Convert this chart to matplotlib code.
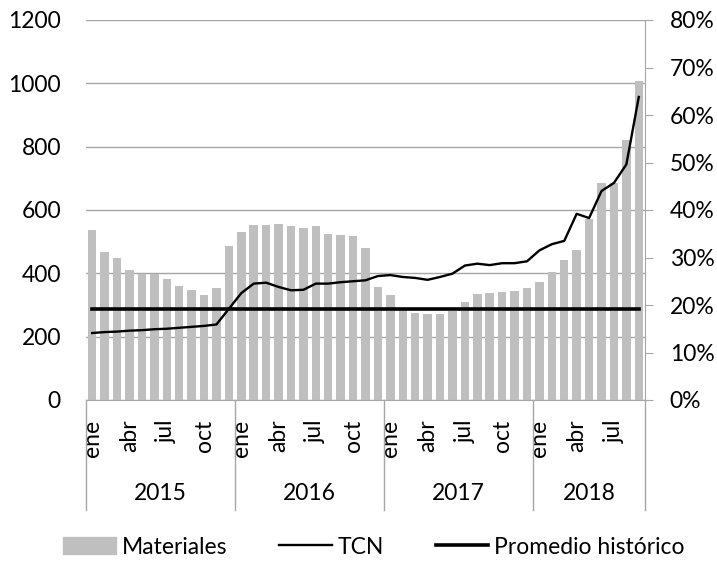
import matplotlib
matplotlib.use("Agg")
import matplotlib.pyplot as plt
from matplotlib.lines import Line2D
from matplotlib.patches import Patch

plt.rcParams['font.family'] = ['Lato', 'DejaVu Sans']

years = ['2015', '2016', '2017', '2018']
months_per_year = [12, 12, 12, 9]
month_labels = ['ene', 'abr', 'jul', 'oct']

materiales = [536, 468, 447, 411, 399, 399, 382, 361, 347, 331, 354, 487,
              532, 554, 554, 557, 551, 543, 551, 524, 520, 517, 480, 358,
              333, 287, 276, 271, 272, 282, 308, 334, 339, 341, 345, 355,
              373, 403, 442, 475, 572, 686, 686, 821, 1008]

tcn = [14.1, 14.3, 14.4, 14.6, 14.7, 14.9, 15.0, 15.2, 15.4, 15.6, 15.9, 19.2,
       22.5, 24.5, 24.7, 23.8, 23.1, 23.2, 24.5, 24.5, 24.8, 25.0, 25.2, 26.1,
       26.3, 25.9, 25.7, 25.3, 25.9, 26.6, 28.3, 28.7, 28.4, 28.8, 28.8, 29.2,
       31.5, 32.8, 33.5, 39.2, 38.3, 44.0, 45.7, 49.6, 63.8]

promedio = 287

n = len(materiales)
x = list(range(n))
grid_col = '#A6A6A6'

fig = plt.figure(figsize=(7.17, 5.63), dpi=100)
ax = fig.add_axes([86/717, 1 - 400/563, (645 - 86)/717, 380/563])
ax2 = ax.twinx()

ax.bar(x, materiales, width=0.68, color='#BFBFBF', zorder=2)
ax.plot([0, n - 1], [promedio, promedio], color='black', lw=2.6, zorder=4)
ax2.plot(x, [v / 100 for v in tcn], color='black', lw=1.7, zorder=5)

ax.set_xlim(-0.5, n - 0.5)
ax.set_ylim(0, 1200)
ax.set_yticks(range(0, 1201, 200))
ax.grid(axis='y', color=grid_col, lw=1, zorder=0)
ax.set_axisbelow(True)
ax2.set_ylim(0, 0.8)
ax2.set_yticks([i / 10 for i in range(9)])
ax2.set_yticklabels([f'{i * 10}%' for i in range(9)])

for s in ['top', 'left']:
    ax.spines[s].set_visible(False)
    ax2.spines[s].set_visible(False)
ax.spines['right'].set_visible(False)
ax.spines['bottom'].set_color(grid_col)
ax2.spines['bottom'].set_visible(False)
ax2.spines['right'].set_color(grid_col)

ax.tick_params(axis='y', length=0, labelsize=16.5, pad=18)
ax2.tick_params(axis='y', length=5.8, color=grid_col, labelsize=16.5, pad=12)

# month ticks
ticks, labels = [], []
start = 0
for cnt in months_per_year:
    for k, lab in enumerate(month_labels):
        if k * 3 < cnt:
            ticks.append(start + k * 3)
            labels.append(lab)
    start += cnt
ax.set_xticks(ticks)
ax.set_xticklabels(labels, rotation=90, fontsize=16.5)
ax.tick_params(axis='x', length=0, pad=14)

# year separators and labels
trans = ax.get_xaxis_transform()
depth = -(510 - 400) / 380
start = 0
bounds = [-0.5]
for yr, cnt in zip(years, months_per_year):
    ax.text(start + (cnt - 1) / 2, -(493 - 400) / 380, yr, transform=trans,
            ha='center', va='center', fontsize=16.5)
    start += cnt
    bounds.append(start - 0.5)
for b in bounds:
    ax.plot([b, b], [0, depth], transform=trans, color=grid_col, lw=1, clip_on=False)

handles = [Patch(color='#BFBFBF'),
           Line2D([], [], color='black', lw=1.7),
           Line2D([], [], color='black', lw=2.6)]
fig.legend(handles, ['Materiales', 'TCN', 'Promedio histórico'], ncol=3,
           loc='center', bbox_to_anchor=(0.5216, 1 - 547/563), frameon=False,
           fontsize=16.5, handlelength=2.3, handletextpad=0.26, columnspacing=2.25,
           handleheight=0.75)

fig.savefig('out.png', dpi=100)
